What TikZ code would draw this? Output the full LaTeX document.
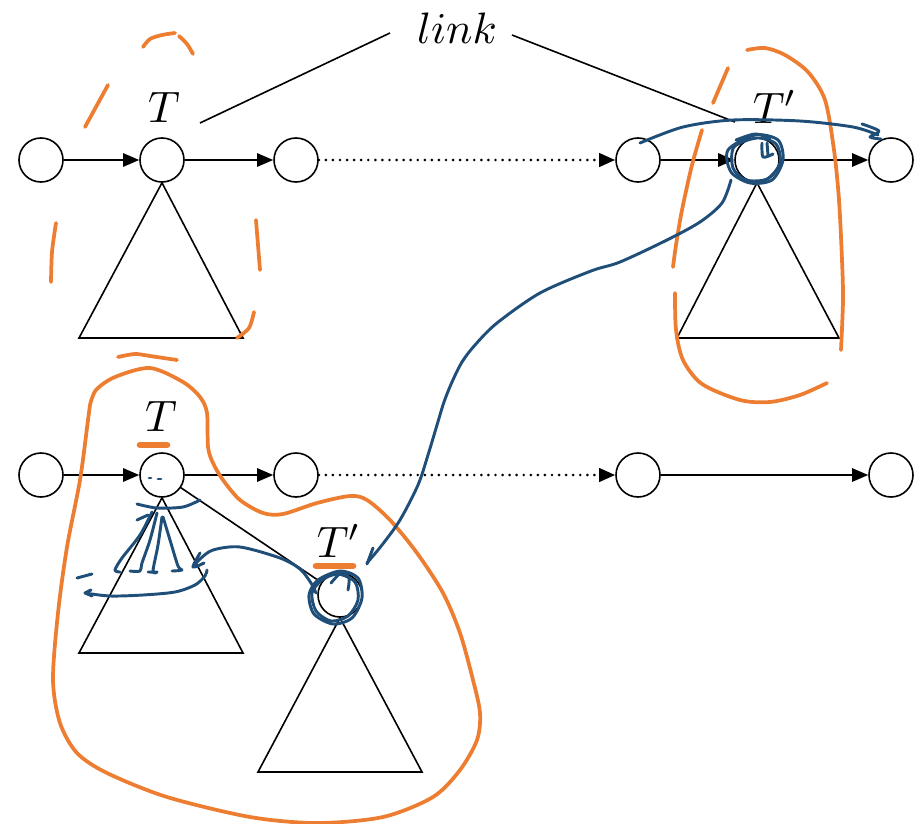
\documentclass[tikz,border=0pt]{standalone}
\usepackage{graphicx}
\usetikzlibrary{arrows.meta}
\definecolor{hlorange}{HTML}{ED7D31}
\definecolor{hlblue}{HTML}{1F4E79}
\newcommand{\bigmath}[1]{\scalebox{3.3}{$#1$}}
\begin{document}
\begin{tikzpicture}[x=0.75pt,y=-0.75pt,
 nd/.style={circle,draw,line width=1.2pt,minimum size=33pt,inner sep=0pt},
 lnk/.style={line width=1.2pt,-{Triangle[length=12pt,width=10pt]}},
 dotlnk/.style={line width=2.2pt,dash pattern=on 0pt off 5.3pt,line cap=round,-{Triangle[length=12pt,width=10pt]}},
 lbl/.style={inner sep=0pt},
 tri/.style={line width=1.2pt},
 orng/.style={draw=hlorange,line width=2.8pt,line cap=round,line join=round},
 blu/.style={draw=hlblue,line width=2.2pt,line cap=round,line join=round},
 hl/.style={draw=hlorange,line width=5pt,line cap=round}]
\useasboundingbox (0,0) rectangle (917,824);
% ---- top row
\node[nd] (a1) at (41,160) {};
\node[nd] (a2) at (162,160) {};
\node[nd] (a3) at (296,160) {};
\node[nd] (a4) at (638,160) {};
\node[nd] (a5) at (757,160) {};
\node[nd] (a6) at (891,160) {};
\draw[lnk] (a1) -- (a2);
\draw[lnk] (a2) -- (a3);
\draw[dotlnk] (a3) -- (a4);
\draw[lnk] (a4) -- (a5);
\draw[lnk] (a5) -- (a6);
\coordinate (ta1) at (79,338); \coordinate (ta2) at (243,338);
\draw[tri] (a2.south) -- (ta1) -- (ta2) -- cycle;
\coordinate (tb1) at (677,338); \coordinate (tb2) at (839,338);
\draw[tri] (a5.south) -- (tb1) -- (tb2) -- cycle;
\node[lbl] (T1) at (164,107) {\bigmath{T}};
\node[lbl] (T2) at (775,107) {\bigmath{T'}};
\node[lbl] (link) at (457,28) {\bigmath{link}};
\coordinate (lk1) at (390,33); \coordinate (lk1e) at (200,123);
\coordinate (lk2) at (512,35); \coordinate (lk2e) at (735,122);
\draw[line width=1.2pt] (lk1) -- (lk1e);
\draw[line width=1.2pt] (lk2) -- (lk2e);
% ---- bottom row
\node[nd] (b1) at (41,475) {};
\node[nd] (b2) at (162,475) {};
\node[nd] (b3) at (296,475) {};
\node[nd] (b4) at (638,475) {};
\node[nd] (b6) at (891,475) {};
\draw[lnk] (b1) -- (b2);
\draw[lnk] (b2) -- (b3);
\draw[dotlnk] (b3) -- (b4);
\draw[lnk] (b4) -- (b6);
\coordinate (tc1) at (79,653); \coordinate (tc2) at (243,653);
\draw[tri] (b2.south) -- (tc1) -- (tc2) -- cycle;
\node[nd] (c1) at (340,595) {};
\draw[line width=1.2pt] (b2) -- (c1);
\coordinate (td1) at (258,772); \coordinate (td2) at (422,772);
\draw[tri] (c1.south) -- (td1) -- (td2) -- cycle;
\node[lbl] (T3) at (161,416) {\bigmath{T}};
\node[lbl] (T4) at (339,541) {\bigmath{T'}};
% ---- orange highlights
\draw[hl] (140,445) -- (167,445);
\draw[hl] (316,566) -- (353,566);
% top-left dashed orange loop
\draw[orng] plot[smooth] coordinates {(143,47) (150,39) (162,35) (175,33)};
\draw[orng] plot[smooth] coordinates {(179,36) (187,44) (193,54)};
\draw[orng] (108,85) -- (85,127);
\draw[orng] plot[smooth] coordinates {(56,223) (52,252) (51,282)};
\draw[orng] plot[smooth] coordinates {(256,220) (258,245) (260,270)};
\draw[orng] plot[smooth] coordinates {(254,312) (249,328) (237,338)};
\draw[orng] plot[smooth] coordinates {(118,357) (135,354) (150,356) (177,360)};
% top-right orange loop
\draw[orng] (728,68) -- (713,103);
\draw[orng] plot[smooth] coordinates {(702,130) (692,165) (682,210) (676,245) (673,267)};
\draw[orng] plot[smooth] coordinates {(747,50) (765,48) (785,55) (808,72) (825,100) (834,150) (839,200) (842,260) (843,300) (841,350)};
\draw[orng] plot[smooth] coordinates {(675,293) (676,330) (683,360) (702,384) (740,400) (770,402) (800,395) (827,383)};
% bottom big orange loop
\draw[orng] plot[smooth] coordinates {(90,405) (96,390) (115,377) (150,368) (183,382) (200,397) (207,413) (208,447) (213,463) (223,480) (240,500) (263,513) (283,514) (317,503) (350,496) (367,500) (390,520) (417,553) (443,593) (460,633) (473,680) (480,713) (477,740) (460,770) (433,797) (383,817) (317,823) (250,817) (167,797) (107,773) (77,753) (60,723) (53,680) (58,613) (67,547) (80,480) (88,420) (90,405)};
% ---- blue strokes
% long arrow from top T' to bottom T'
\draw[blu] plot[smooth] coordinates {(731,180) (722,203) (700,222) (667,240) (620,262) (591,271) (540,293) (497,323) (475,345) (462,362) (452,382) (444,402) (437,425) (428,455) (418,485) (400,520) (382,545) (367,563)};
\draw[blu] (373,548) -- (367,564);
% arc over the top from a4 to a6
\draw[blu] plot[smooth] coordinates {(640,143) (683,127) (733,120) (800,121) (853,127) (878,135)};
\draw[blu] plot[smooth] coordinates {(862,124) (879,131) (870,137) (881,139)};
% scribbles round the top T' node
\draw[blu] plot[smooth cycle] coordinates {(755,135) (778,140) (783,160) (772,180) (750,183) (731,172) (728,150)};
\draw[blu] plot[smooth cycle] coordinates {(757,138) (776,144) (780,163) (767,179) (746,180) (733,168) (734,147)};
\draw[blu] plot[smooth] coordinates {(736,140) (755,134) (770,138)};
\draw[blu] plot[smooth] coordinates {(762,143) (763,157) (773,154)};
\draw[blu] (767,143) -- (768,155);
% scribbles round the bottom T' node
\draw[blu] plot[smooth cycle] coordinates {(340,571) (358,578) (362,598) (352,618) (333,624) (314,614) (309,595) (318,580)};
\draw[blu] plot[smooth cycle] coordinates {(338,574) (355,582) (358,600) (348,616) (331,621) (316,611) (312,593) (322,580)};
\draw[blu] plot[smooth] coordinates {(331,583) (342,572) (349,578) (348,590)};
% curve from bottom T' to left subtree
\draw[blu] plot[smooth] coordinates {(316,593) (311,583) (300,569) (280,558) (240,547) (213,550) (200,559) (193,567)};
\draw[blu] plot[smooth] coordinates {(200,553) (193,567) (204,563)};
% marks inside the left subtree
\draw[blu] plot[smooth] coordinates {(137,504) (157,508) (183,507) (200,500)};
\draw[blu] (137,520) -- (148,515);
\draw[blu] plot[smooth] coordinates {(152,512) (140,535) (122,558) (115,570) (120,572)};
\draw[blu] plot[smooth] coordinates {(157,513) (150,540) (142,563) (140,571) (130,571)};
\draw[blu] plot[smooth] coordinates {(162,517) (158,545) (153,571) (157,572) (148,572)};
\draw[blu] plot[smooth] coordinates {(163,517) (170,540) (178,566) (182,570) (172,571)};
\draw[blu] (77,578) -- (92,574);
\draw[blu] plot[smooth] coordinates {(85,593) (110,596) (143,595) (175,592) (195,585) (205,576) (207,570)};
\draw[blu] (91,590) -- (85,593) -- (92,596);
\draw[blu] (149,478) -- (151,478);
\draw[blu] (158,479) -- (161,479);
\end{tikzpicture}
\end{document}
